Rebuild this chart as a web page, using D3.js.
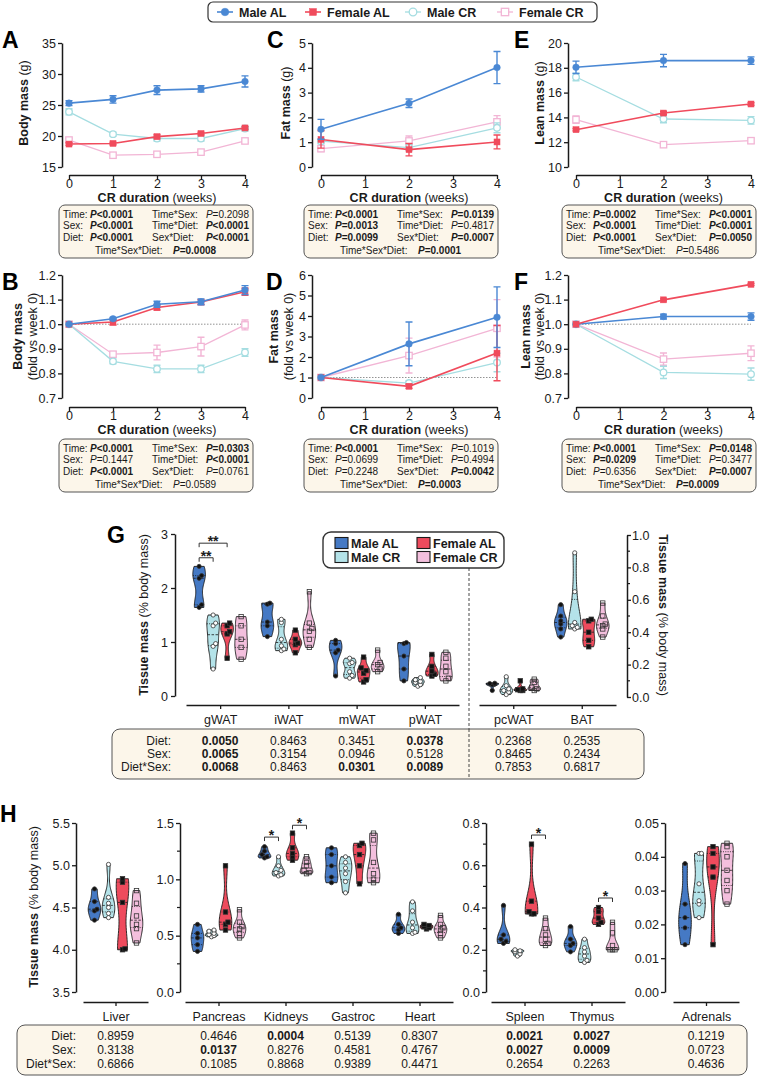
<!DOCTYPE html>
<html><head><meta charset="utf-8">
<script src="https://cdn.jsdelivr.net/npm/d3@7/dist/d3.min.js"></script>
<style>
html,body{margin:0;padding:0;background:#fff;}
svg{display:block;font-family:"Liberation Sans",Arial,Helvetica,sans-serif;}
</style></head><body>
<svg id="chart" width="757" height="1076"></svg>
<script>
// ================= DATA =================
const groupNames = ["Male AL","Female AL","Male CR","Female CR"];
const weeksAll = [0,1,2,3,4];
const weeksScan = [0,2,4];
const xTickWeeks = [0,1,2,3,4];

// A: Body mass (g)
const A_maleAL=[25.3,25.9,27.4,27.6,28.8], A_maleAL_err=[0.4,0.6,0.7,0.5,0.9];
const A_femaleAL=[18.7,18.8,19.9,20.4,21.3], A_femaleAL_err=[0.2,0.2,0.3,0.2,0.2];
const A_maleCR=[23.9,20.3,19.6,19.6,21.2], A_maleCR_err=[0.5,0.3,0.4,0.4,0.4];
const A_femaleCR=[19.35,16.9,17.05,17.4,19.2], A_femaleCR_err=[0.3,0.3,0.3,0.3,0.3];
// B: Body mass fold
const B_maleAL=[1,1.022,1.081,1.091,1.139], B_maleAL_err=[0,0.005,0.012,0.012,0.018];
const B_femaleAL=[1,1.009,1.068,1.09,1.132], B_femaleAL_err=[0,0.012,0.01,0.01,0.015];
const B_maleCR=[1,0.849,0.818,0.818,0.885], B_maleCR_err=[0,0.01,0.015,0.015,0.015];
const B_femaleCR=[1,0.878,0.885,0.909,0.997], B_femaleCR_err=[0,0.01,0.03,0.038,0.02];
// C: Fat mass (g)
const C_maleAL=[1.52,2.57,4.01], C_maleAL_err=[0.4,0.17,0.65];
const C_femaleAL=[1.11,0.70,1.01], C_femaleAL_err=[0.35,0.25,0.28];
const C_maleCR=[1.04,0.78,1.58], C_maleCR_err=[0.1,0.12,0.2];
const C_femaleCR=[0.74,1.05,1.82], C_femaleCR_err=[0.12,0.2,0.25];
// D: Fat mass fold
const D_maleAL=[1,2.64,3.94], D_maleAL_err=[0,1.07,1.48];
const D_femaleAL=[1,0.57,2.19], D_femaleAL_err=[0,0.1,1.35];
const D_maleCR=[1,0.73,1.73], D_maleCR_err=[0,0.1,0.45];
const D_femaleCR=[1,2.07,3.4], D_femaleCR_err=[0,0.85,1.4];
// E: Lean mass (g)
const E_maleAL=[18.04,18.58,18.58], E_maleAL_err=[0.5,0.5,0.3];
const E_femaleAL=[13.01,14.35,15.08], E_femaleAL_err=[0.1,0.1,0.1];
const E_maleCR=[17.26,13.87,13.76], E_maleCR_err=[0.3,0.3,0.3];
const E_femaleCR=[13.82,11.8,12.12], E_femaleCR_err=[0.3,0.2,0.2];
// F: Lean mass fold
const F_maleAL=[1,1.031,1.031], F_maleAL_err=[0,0.01,0.015];
const F_femaleAL=[1,1.099,1.162], F_femaleAL_err=[0,0.004,0.004];
const F_maleCR=[1,0.804,0.797], F_maleCR_err=[0,0.025,0.025];
const F_femaleCR=[1,0.858,0.882], F_femaleCR_err=[0,0.025,0.03];

// stats: [label, value, bold]
const statsA=[["Time:","P<0.0001",1],["Time*Sex:","P=0.2098",0],["Sex:","P<0.0001",1],["Time*Diet:","P<0.0001",1],["Diet:","P<0.0001",1],["Sex*Diet:","P<0.0001",1],["Time*Sex*Diet:","P=0.0008",1]];
const statsB=[["Time:","P<0.0001",1],["Time*Sex:","P=0.0303",1],["Sex:","P=0.1447",0],["Time*Diet:","P<0.0001",1],["Diet:","P<0.0001",1],["Sex*Diet:","P=0.0761",0],["Time*Sex*Diet:","P=0.0589",0]];
const statsC=[["Time:","P<0.0001",1],["Time*Sex:","P=0.0139",1],["Sex:","P=0.0013",1],["Time*Diet:","P=0.4817",0],["Diet:","P=0.0099",1],["Sex*Diet:","P=0.0007",1],["Time*Sex*Diet:","P=0.0001",1]];
const statsD=[["Time:","P<0.0001",1],["Time*Sex:","P=0.1019",0],["Sex:","P=0.0699",0],["Time*Diet:","P=0.4994",0],["Diet:","P=0.2248",0],["Sex*Diet:","P=0.0042",1],["Time*Sex*Diet:","P=0.0003",1]];
const statsE=[["Time:","P=0.0002",1],["Time*Sex:","P<0.0001",1],["Sex:","P<0.0001",1],["Time*Diet:","P<0.0001",1],["Diet:","P<0.0001",1],["Sex*Diet:","P=0.0050",1],["Time*Sex*Diet:","P=0.5486",0]];
const statsF=[["Time:","P<0.0001",1],["Time*Sex:","P=0.0148",1],["Sex:","P=0.0209",1],["Time*Diet:","P=0.3477",0],["Diet:","P=0.6356",0],["Sex*Diet:","P=0.0007",1],["Time*Sex*Diet:","P=0.0009",1]];

// Violin groups order: Male AL, Male CR, Female AL, Female CR
const violinGroups = ["Male AL","Male CR","Female AL","Female CR"];
const gTissuesWAT = ["gWAT","iWAT","mWAT","pWAT"];
const gTissuesOther = ["pcWAT","BAT"];
const gWAT=[[2.40,2.23,2.18,1.69,1.64],[1.50,1.35,1.30,0.97,0.92,0.50],[1.35,1.30,1.19,1.15,0.70],[1.47,1.30,1.05,0.90,0.68]];
const iWAT=[[1.72,1.70,1.37,1.30,1.10],[1.42,1.36,1.05,0.93,0.87,0.84],[1.22,1.05,0.98,0.95,0.80],[1.93,1.35,1.25,1.20,1.05,0.90]];
const mWAT=[[1.03,0.97,0.85,0.80,0.37],[0.70,0.62,0.60,0.45,0.38,0.33],[0.72,0.52,0.47,0.42,0.30,0.26],[0.85,0.62,0.58,0.50,0.45]];
const pWAT=[[0.99,0.97,0.74,0.50,0.28],[0.34,0.30,0.27,0.25,0.21,0.18],[0.77,0.55,0.46,0.40,0.37],[0.81,0.70,0.55,0.45,0.33,0.28]];
const pcWAT=[[0.085,0.083,0.080,0.075,0.04],[0.125,0.07,0.05,0.04,0.03,0.015],[0.10,0.05,0.045,0.04,0.04],[0.11,0.09,0.06,0.05,0.04]];
const BAT=[[0.57,0.50,0.47,0.45,0.42,0.37],[0.89,0.65,0.46,0.44,0.43,0.42],[0.48,0.47,0.40,0.35,0.31],[0.58,0.50,0.45,0.44,0.42,0.37]];
const gBrackets=[{cat:"gWAT",a:0,b:1,y:2.56,label:"**"},{cat:"gWAT",a:0,b:2,y:2.83,label:"**"}];
const gStatsRows=["Diet:","Sex:","Diet*Sex:"];
const gStats={gWAT:[0.0050,0.0065,0.0068],iWAT:[0.8463,0.3154,0.8463],mWAT:[0.3451,0.0946,0.0301],pWAT:[0.0378,0.5128,0.0089],pcWAT:[0.2368,0.8465,0.7853],BAT:[0.2535,0.2434,0.6817]};

const hLiver=["Liver"], hPanel2=["Pancreas","Kidneys","Gastroc","Heart"], hPanel3=["Spleen","Thymus"], hPanel4=["Adrenals"];
const liver=[[4.72,4.57,4.48,4.46,4.35],[5.01,4.62,4.55,4.50,4.43,4.38],[4.84,4.80,4.56,4.01,4.00],[4.70,4.55,4.40,4.30,4.25,4.08]];
const pancreas=[[0.60,0.52,0.48,0.42,0.36],[0.55,0.54,0.52,0.51,0.50,0.49],[1.12,0.71,0.62,0.60,0.55],[0.73,0.62,0.58,0.56,0.52,0.48]];
const kidneys=[[1.29,1.25,1.22,1.20,1.19],[1.20,1.12,1.08,1.06,1.04,1.03],[1.41,1.28,1.23,1.20,1.17],[1.20,1.15,1.12,1.08,1.06,1.05]];
const gastroc=[[1.28,1.22,1.12,1.02,0.97],[1.20,1.15,1.10,1.05,0.98,0.88],[1.32,1.30,1.22,1.12,0.96],[1.41,1.35,1.15,1.05,1.00,0.97]];
const heart=[[0.69,0.60,0.57,0.55,0.52],[0.80,0.72,0.62,0.57,0.53,0.52],[0.60,0.59,0.58,0.57,0.56],[0.68,0.60,0.57,0.55,0.52,0.48]];
const spleen=[[0.41,0.27,0.25,0.24,0.23],[0.20,0.195,0.19,0.18,0.17],[0.70,0.43,0.38,0.37,0.37],[0.35,0.30,0.27,0.25,0.23,0.22]];
const thymus=[[0.31,0.25,0.23,0.22,0.19],[0.25,0.21,0.19,0.17,0.15,0.14],[0.40,0.38,0.35,0.33,0.32],[0.33,0.28,0.22,0.20,0.20,0.20]];
const adrenals=[[0.038,0.026,0.022,0.019,0.014],[0.041,0.041,0.032,0.027,0.026,0.022],[0.043,0.041,0.037,0.034,0.014],[0.044,0.043,0.040,0.036,0.033,0.030,0.026]];
const hBrackets=[{cat:"Kidneys",a:0,b:1,y:1.375,label:"*"},{cat:"Kidneys",a:2,b:3,y:1.48,label:"*"},{cat:"Spleen",a:2,b:3,y:0.743,label:"*"},{cat:"Thymus",a:2,b:3,y:0.445,label:"*"}];
const hStats={Liver:[0.8959,0.3138,0.6866],Pancreas:[0.4646,0.0137,0.1085],Kidneys:[0.0004,0.8276,0.8868],Gastroc:[0.5139,0.4581,0.9389],Heart:[0.8307,0.4767,0.4471],Spleen:[0.0021,0.0027,0.2654],Thymus:[0.0027,0.0009,0.2263],Adrenals:[0.1219,0.0723,0.4636]};

// ================= STYLE =================
const lineStyle = {
  "Male AL":{color:"#4a88d4",shape:"circle",filled:true,w:1.6},
  "Female AL":{color:"#f04b5c",shape:"square",filled:true,w:1.6},
  "Male CR":{color:"#a5dde1",shape:"circle",filled:false,w:1.3},
  "Female CR":{color:"#f2b5d5",shape:"square",filled:false,w:1.3}
};
const violinFill = {"Male AL":"#4579c4","Male CR":"#b4e3e9","Female AL":"#ee4b5d","Female CR":"#f3bfdd"};
const INK="#1a1a1a";
const svg = d3.select("#chart");
const fmt1=d3.format(".1f"), fmtd=d3.format("d");

function styleAxis(g, fs){
  g.selectAll(".domain").attr("stroke",INK).attr("stroke-width",1.5);
  g.selectAll(".tick line").attr("stroke",INK).attr("stroke-width",1.3);
  g.selectAll(".tick text").attr("fill",INK).attr("font-size",fs||12.5).attr("font-family","Liberation Sans, Arial, sans-serif");
}
function rich(g, x, y, parts, anchor, fs, transform){
  const t=g.append("text").attr("x",x).attr("y",y).attr("text-anchor",anchor||"start").attr("font-size",fs).attr("fill",INK);
  if(transform) t.attr("transform",transform);
  parts.forEach(p=>t.append("tspan").text(p[0]).attr("font-weight",p[1]?"bold":"normal").attr("font-style",p[2]?"italic":"normal"));
  return t;
}
const BOXFS=10;
function pval(g,x,y,val,bold,anchor){
  rich(g,x,y,[["P",bold,1],[val.slice(1),bold,0]],anchor,BOXFS);
}
function marker(g,cx,cy,s,k){
  k=k||1;
  if(s.shape==="circle"){
    g.append("circle").attr("cx",cx).attr("cy",cy).attr("r",3.3*k).attr("fill",s.filled?s.color:"#fff").attr("stroke",s.color).attr("stroke-width",s.filled?0.5:1.3);
  } else {
    const h=(s.filled?3:3.2)*k;
    g.append("rect").attr("x",cx-h).attr("y",cy-h).attr("width",2*h).attr("height",2*h).attr("fill",s.filled?s.color:"#fff").attr("stroke",s.color).attr("stroke-width",s.filled?0.5:1.3);
  }
}

// ================= TOP LEGEND =================
(function(){
  const g=svg.append("g");
  g.append("rect").attr("x",208).attr("y",2).attr("width",389).attr("height",20).attr("rx",5).attr("fill","#fff").attr("stroke","#333").attr("stroke-width",1.2);
  const lx=[225,313,413,505];
  groupNames.forEach((n,i)=>{
    const s=lineStyle[n];
    g.append("line").attr("x1",lx[i]-8).attr("x2",lx[i]+8).attr("y1",12).attr("y2",12).attr("stroke",s.color).attr("stroke-width",s.w);
    marker(g,lx[i],12,s,1.15);
    g.append("text").attr("x",lx[i]+14).attr("y",16.5).attr("font-size",12.5).attr("font-weight","bold").attr("fill",INK).text(n);
  });
})();

// ================= LINE PANELS =================
const cols=[{ax:62,x0:69,x1:245,bx:59},{ax:312,x0:321,x1:497,bx:304},{ax:568,x0:576,x1:751,bx:562}];
const rows=[{top:43,bot:167,xa:175,by:205,lb:48},{top:275,bot:398,xa:407,by:439,lb:290}];

function statsBox(bx,by,st){
  const g=svg.append("g");
  g.append("rect").attr("x",bx).attr("y",by).attr("width",194).attr("height",53).attr("rx",6).attr("fill","#fcf6ea").attr("stroke","#555").attr("stroke-width",1);
  const bl=[by+12.5,by+24,by+35.5];
  for(let i=0;i<3;i++){
    const L=st[2*i], R=st[2*i+1];
    rich(g,bx+4,bl[i],[[L[0],0,0]],"start",BOXFS);
    pval(g,bx+31,bl[i],L[1],L[2],"start");
    rich(g,bx+93,bl[i],[[R[0],0,0]],"start",BOXFS);
    pval(g,bx+190,bl[i],R[1],R[2],"end");
  }
  const Z=st[6];
  rich(g,bx+36,by+49,[[Z[0],0,0]],"start",BOXFS);
  pval(g,bx+114,by+49,Z[1],Z[2],"start");
}

function linePanel(p){
  const c=cols[p.col], r=rows[p.row];
  const g=svg.append("g");
  const x=d3.scaleLinear().domain([0,4]).range([c.x0,c.x1]);
  const y=d3.scaleLinear().domain(p.yDomain).range([r.bot,r.top]);
  const ya=g.append("g").attr("transform",`translate(${c.ax},0)`).call(d3.axisLeft(y).tickValues(p.yTicks).tickFormat(p.fmt).tickSize(4).tickSizeOuter(0).tickPadding(2));
  styleAxis(ya);
  const xa=g.append("g").attr("transform",`translate(0,${r.xa})`).call(d3.axisBottom(x).tickValues(xTickWeeks).tickFormat(fmtd).tickSize(4).tickSizeOuter(0).tickPadding(0));
  styleAxis(xa);
  rich(g,(c.x0+c.x1)/2,r.xa+27.3,[["CR duration",1],[" (weeks)",0]],"middle",12.5);
  if(p.ref) g.append("line").attr("x1",c.x0).attr("x2",c.x1).attr("y1",y(1)).attr("y2",y(1)).attr("stroke","#777").attr("stroke-width",0.8).attr("stroke-dasharray","1.5,1.5");
  p.series.forEach(([name,vals,errs])=>{
    const s=lineStyle[name];
    const pts=vals.map((v,i)=>({w:p.weeks[i],v,e:errs[i]}));
    g.append("path").datum(pts).attr("d",d3.line().x(d=>x(d.w)).y(d=>y(d.v))).attr("fill","none").attr("stroke",s.color).attr("stroke-width",s.w);
    pts.forEach(d=>{
      if(d.e>0){
        const y1=y(d.v-d.e), y2=y(d.v+d.e), xx=x(d.w);
        g.append("path").attr("d",`M${xx},${y1}V${y2}M${xx-3.5},${y1}H${xx+3.5}M${xx-3.5},${y2}H${xx+3.5}`).attr("stroke",s.color).attr("stroke-width",1.4).attr("fill","none");
      }
    });
    pts.forEach(d=>marker(g,x(d.w),y(d.v),s,1));
  });
  g.append("text").attr("x",p.lx).attr("y",r.lb).attr("font-size",23).attr("font-weight","bold").attr("fill","#000").text(p.letter);
  const cy=(r.top+r.bot)/2;
  if(p.title2){
    rich(g,0,0,[[p.title[0][0],1]],"middle",12.5,`translate(${p.tx[0]+4.5},${cy}) rotate(-90)`);
    rich(g,0,0,[[p.title2,0]],"middle",12.5,`translate(${p.tx[1]+4.5},${cy}) rotate(-90)`);
  } else {
    rich(g,0,0,p.title,"middle",12.5,`translate(${p.tx[0]+4.5},${cy-2}) rotate(-90)`);
  }
  statsBox(c.bx,r.by,p.stats);
}

linePanel({letter:"A",lx:2,col:0,row:0,weeks:weeksAll,yDomain:[15,35],yTicks:[15,20,25,30,35],fmt:fmtd,
  series:[["Female CR",A_femaleCR,A_femaleCR_err],["Male CR",A_maleCR,A_maleCR_err],["Female AL",A_femaleAL,A_femaleAL_err],["Male AL",A_maleAL,A_maleAL_err]],
  title:[["Body mass",1],[" (g)",0]],tx:[23],stats:statsA});
linePanel({letter:"C",lx:267,col:1,row:0,weeks:weeksScan,yDomain:[0,5],yTicks:[0,1,2,3,4,5],fmt:fmtd,
  series:[["Female CR",C_femaleCR,C_femaleCR_err],["Male CR",C_maleCR,C_maleCR_err],["Female AL",C_femaleAL,C_femaleAL_err],["Male AL",C_maleAL,C_maleAL_err]],
  title:[["Fat mass",1],[" (g)",0]],tx:[285],stats:statsC});
linePanel({letter:"E",lx:514,col:2,row:0,weeks:weeksScan,yDomain:[10,20],yTicks:[10,12,14,16,18,20],fmt:fmtd,
  series:[["Female CR",E_femaleCR,E_femaleCR_err],["Male CR",E_maleCR,E_maleCR_err],["Female AL",E_femaleAL,E_femaleAL_err],["Male AL",E_maleAL,E_maleAL_err]],
  title:[["Lean mass",1],[" (g)",0]],tx:[539],stats:statsE});
linePanel({letter:"B",lx:2,col:0,row:1,weeks:weeksAll,yDomain:[0.7,1.2],yTicks:[0.7,0.8,0.9,1.0,1.1,1.2],fmt:fmt1,ref:true,
  series:[["Female CR",B_femaleCR,B_femaleCR_err],["Male CR",B_maleCR,B_maleCR_err],["Female AL",B_femaleAL,B_femaleAL_err],["Male AL",B_maleAL,B_maleAL_err]],
  title:[["Body mass",1]],title2:"(fold vs week 0)",tx:[17,32],stats:statsB});
linePanel({letter:"D",lx:266,col:1,row:1,weeks:weeksScan,yDomain:[0,6],yTicks:[0,1,2,3,4,5,6],fmt:fmtd,ref:true,
  series:[["Female CR",D_femaleCR,D_femaleCR_err],["Male CR",D_maleCR,D_maleCR_err],["Female AL",D_femaleAL,D_femaleAL_err],["Male AL",D_maleAL,D_maleAL_err]],
  title:[["Fat mass",1]],title2:"(fold vs week 0)",tx:[273,288],stats:statsD});
linePanel({letter:"F",lx:514,col:2,row:1,weeks:weeksScan,yDomain:[0.7,1.2],yTicks:[0.7,0.8,0.9,1.0,1.1,1.2],fmt:fmt1,ref:true,
  series:[["Female CR",F_femaleCR,F_femaleCR_err],["Male CR",F_maleCR,F_maleCR_err],["Male AL",F_maleAL,F_maleAL_err],["Female AL",F_femaleAL,F_femaleAL_err]],
  title:[["Lean mass",1]],title2:"(fold vs week 0)",tx:[525,539],stats:statsF});

// ================= VIOLINS =================
const vOff=[-21,-7,7,21];
function kde(vals){
  const n=vals.length, sd=d3.deviation(vals)||1e-6;
  const h=Math.max(0.7*1.06*sd*Math.pow(n,-0.2),1e-9);
  const lo=d3.min(vals), hi=d3.max(vals), N=48;
  const dens=v=>d3.sum(vals,xi=>Math.exp(-0.5*((v-xi)/h)**2));
  const pts=d3.range(N+1).map(i=>{const v=lo+(hi-lo)*i/N;return {v,d:dens(v)};});
  const m=d3.max(pts,d=>d.d);
  return {pts, m, dens};
}
function violin(g,cx,y,vals,gi){
  const name=violinGroups[gi], W=6.3;
  const k=kde(vals);
  const hw=v=>W*k.dens(v)/k.m;
  g.append("path").datum(k.pts).attr("d",d3.area().y(d=>y(d.v)).x0(d=>cx-W*d.d/k.m).x1(d=>cx+W*d.d/k.m).curve(d3.curveBasis))
    .attr("fill",violinFill[name]).attr("stroke",INK).attr("stroke-width",0.9);
  const s=vals.slice().sort(d3.ascending);
  [[0.25,"1,1.3"],[0.5,"2.5,1.5"],[0.75,"1,1.3"]].forEach(([q,da])=>{
    const v=d3.quantile(s,q), w=hw(v);
    g.append("line").attr("x1",cx-w).attr("x2",cx+w).attr("y1",y(v)).attr("y2",y(v)).attr("stroke",INK).attr("stroke-width",0.8).attr("stroke-dasharray",da);
  });
  const filled=(gi===0||gi===2), circle=(gi<2);
  let prev=null, alt=0;
  s.forEach(v=>{
    let px=cx; const py=y(v);
    if(prev!==null && Math.abs(prev-py)<3){alt=alt?0:1; px=cx+(alt?2.5:-2.5);} else alt=0;
    prev=py;
    if(circle) g.append("circle").attr("cx",px).attr("cy",py).attr("r",2.1).attr("fill",filled?"#111":"#fff").attr("stroke","#333").attr("stroke-width",0.8);
    else g.append("rect").attr("x",px-2.2).attr("y",py-2.2).attr("width",4.4).attr("height",4.4).attr("fill",filled?"#111":"none").attr("stroke","#333").attr("stroke-width",0.8);
  });
}
function bracket(g,x1,x2,yy,label){
  g.append("path").attr("d",`M${x1},${yy+4}V${yy}H${x2}V${yy+4}`).attr("fill","none").attr("stroke","#333").attr("stroke-width",1);
  g.append("text").attr("x",(x1+x2)/2).attr("y",yy+3).attr("text-anchor","middle").attr("font-size",14).attr("font-weight","bold").attr("fill",INK).text(label);
}
function catAxis(g,scale,yy){
  const a=g.append("g").attr("transform",`translate(0,${yy})`).call(d3.axisBottom(scale).tickSize(4).tickSizeOuter(0).tickPadding(6));
  styleAxis(a,12.5);
}

// ---- Panel G ----
(function(){
  const g=svg.append("g");
  const xL=d3.scalePoint().domain(gTissuesWAT).range([186,459]).padding(0.5);
  const xR=d3.scalePoint().domain(gTissuesOther).range([479,616]).padding(0.5);
  const yL=d3.scaleLinear().domain([0,3]).range([696,534]);
  const yR=d3.scaleLinear().domain([0,1]).range([697,535]);
  const a1=g.append("g").attr("transform","translate(175,0)").call(d3.axisLeft(yL).tickValues([0,1,2,3]).tickFormat(fmtd).tickSize(4).tickSizeOuter(0).tickPadding(3));
  styleAxis(a1);
  const a2=g.append("g").attr("transform","translate(627,0)").call(d3.axisRight(yR).tickValues([0,0.2,0.4,0.6,0.8,1.0]).tickFormat(fmt1).tickSize(4).tickSizeOuter(0).tickPadding(1));
  styleAxis(a2);
  a2.selectAll(".minor").data([0.1,0.3,0.5,0.7,0.9]).enter().append("line").attr("x1",0).attr("x2",3).attr("y1",d=>yR(d)).attr("y2",d=>yR(d)).attr("stroke",INK).attr("stroke-width",1.2);
  catAxis(g,xL,705); catAxis(g,xR,705);
  g.append("line").attr("x1",469).attr("x2",469).attr("y1",568).attr("y2",778).attr("stroke","#333").attr("stroke-width",0.9).attr("stroke-dasharray","3,2");
  const dataMap={gWAT,iWAT,mWAT,pWAT,pcWAT,BAT};
  gTissuesWAT.forEach(t=>dataMap[t].forEach((vals,gi)=>violin(g,xL(t)+vOff[gi],yL,vals,gi)));
  gTissuesOther.forEach(t=>dataMap[t].forEach((vals,gi)=>violin(g,xR(t)+vOff[gi],yR,vals,gi)));
  gBrackets.forEach(b=>bracket(g,xL(b.cat)+vOff[b.a],xL(b.cat)+vOff[b.b],yL(b.y),b.label));
  rich(g,0,0,[["Tissue mass",1],[" (% body mass)",0]],"middle",12.5,"translate(147.5,615) rotate(-90)");
  rich(g,0,0,[["Tissue mass",1],[" (% body mass)",0]],"middle",12.5,"translate(658.5,615) rotate(90)");
  g.append("text").attr("x",107).attr("y",543).attr("font-size",23).attr("font-weight","bold").attr("fill","#000").text("G");
  g.append("rect").attr("x",323).attr("y",532).attr("width",181).attr("height",36).attr("rx",8).attr("fill","#fff").attr("stroke","#333").attr("stroke-width",1.4);
  const lpos=[[335,543],[335,557],[417,543],[417,557]];
  violinGroups.forEach((n,i)=>{
    g.append("rect").attr("x",lpos[i][0]).attr("y",lpos[i][1]-5.5).attr("width",13).attr("height",11).attr("fill",violinFill[n]).attr("stroke",INK).attr("stroke-width",1.1);
    g.append("text").attr("x",lpos[i][0]+16).attr("y",lpos[i][1]+4.5).attr("font-size",12.5).attr("font-weight","bold").attr("fill",INK).text(n);
  });
  g.append("rect").attr("x",112).attr("y",729).attr("width",532).attr("height",50).attr("rx",8).attr("fill","#fcf6ea").attr("stroke","#555").attr("stroke-width",1);
  g.append("line").attr("x1",469).attr("x2",469).attr("y1",729).attr("y2",779).attr("stroke","#333").attr("stroke-width",0.9).attr("stroke-dasharray","3,2");
  const bls=[745,758,771];
  gStatsRows.forEach((r,i)=>g.append("text").attr("x",171).attr("y",bls[i]).attr("text-anchor","end").attr("font-size",12).attr("fill",INK).text(r));
  const f4=d3.format(".4f");
  gTissuesWAT.concat(gTissuesOther).forEach(t=>{
    const xx=gTissuesWAT.includes(t)?xL(t):xR(t);
    gStats[t].forEach((v,i)=>g.append("text").attr("x",xx).attr("y",bls[i]).attr("text-anchor","middle").attr("font-size",12).attr("font-weight",v<0.05?"bold":"normal").attr("fill",INK).text(f4(v)));
  });
})();

// ---- Panel H ----
(function(){
  const g=svg.append("g");
  const panels=[
    {cats:hLiver,range:[83,148],ax:76,dom:[3.5,5.5],ticks:[3.5,4,4.5,5,5.5],fmt:fmt1,minor:[],data:{Liver:liver}},
    {cats:hPanel2,range:[185,453],ax:180,dom:[0,1.5],ticks:[0,0.5,1,1.5],fmt:fmt1,minor:[0.25,0.75,1.25],data:{Pancreas:pancreas,Kidneys:kidneys,Gastroc:gastroc,Heart:heart}},
    {cats:hPanel3,range:[491,625],ax:486,dom:[0,0.8],ticks:[0,0.2,0.4,0.6,0.8],fmt:fmt1,minor:[0.1,0.3,0.5,0.7],data:{Spleen:spleen,Thymus:thymus}},
    {cats:hPanel4,range:[673,739],ax:665,dom:[0,0.05],ticks:[0,0.01,0.02,0.03,0.04,0.05],fmt:d3.format(".2f"),minor:[],data:{Adrenals:adrenals}}
  ];
  const f4=d3.format(".4f");
  const bls=[1040,1054,1068];
  g.append("rect").attr("x",17).attr("y",1025).attr("width",730).attr("height",50).attr("rx",8).attr("fill","#fcf6ea").attr("stroke","#555").attr("stroke-width",1);
  gStatsRows.forEach((r,i)=>g.append("text").attr("x",76).attr("y",bls[i]).attr("text-anchor","end").attr("font-size",12).attr("fill",INK).text(r));
  panels.forEach(P=>{
    const x=d3.scalePoint().domain(P.cats).range(P.range).padding(0.5);
    const y=d3.scaleLinear().domain(P.dom).range([992,823]);
    const a=g.append("g").attr("transform",`translate(${P.ax},0)`).call(d3.axisLeft(y).tickValues(P.ticks).tickFormat(P.fmt).tickSize(4).tickSizeOuter(0).tickPadding(2));
    styleAxis(a);
    a.selectAll(".minor").data(P.minor).enter().append("line").attr("x1",0).attr("x2",-3).attr("y1",d=>y(d)).attr("y2",d=>y(d)).attr("stroke",INK).attr("stroke-width",1.2);
    catAxis(g,x,1002);
    P.cats.forEach(t=>{
      P.data[t].forEach((vals,gi)=>violin(g,x(t)+vOff[gi],y,vals,gi));
      hStats[t].forEach((v,i)=>g.append("text").attr("x",x(t)).attr("y",bls[i]).attr("text-anchor","middle").attr("font-size",12).attr("font-weight",v<0.05?"bold":"normal").attr("fill",INK).text(f4(v)));
    });
    hBrackets.filter(b=>P.cats.includes(b.cat)).forEach(b=>bracket(g,x(b.cat)+vOff[b.a],x(b.cat)+vOff[b.b],y(b.y),b.label));
  });
  rich(g,0,0,[["Tissue mass",1],[" (% body mass)",0]],"middle",12.5,"translate(37.5,907) rotate(-90)");
  g.append("text").attr("x",0).attr("y",822).attr("font-size",23).attr("font-weight","bold").attr("fill","#000").text("H");
})();
</script></body></html>
